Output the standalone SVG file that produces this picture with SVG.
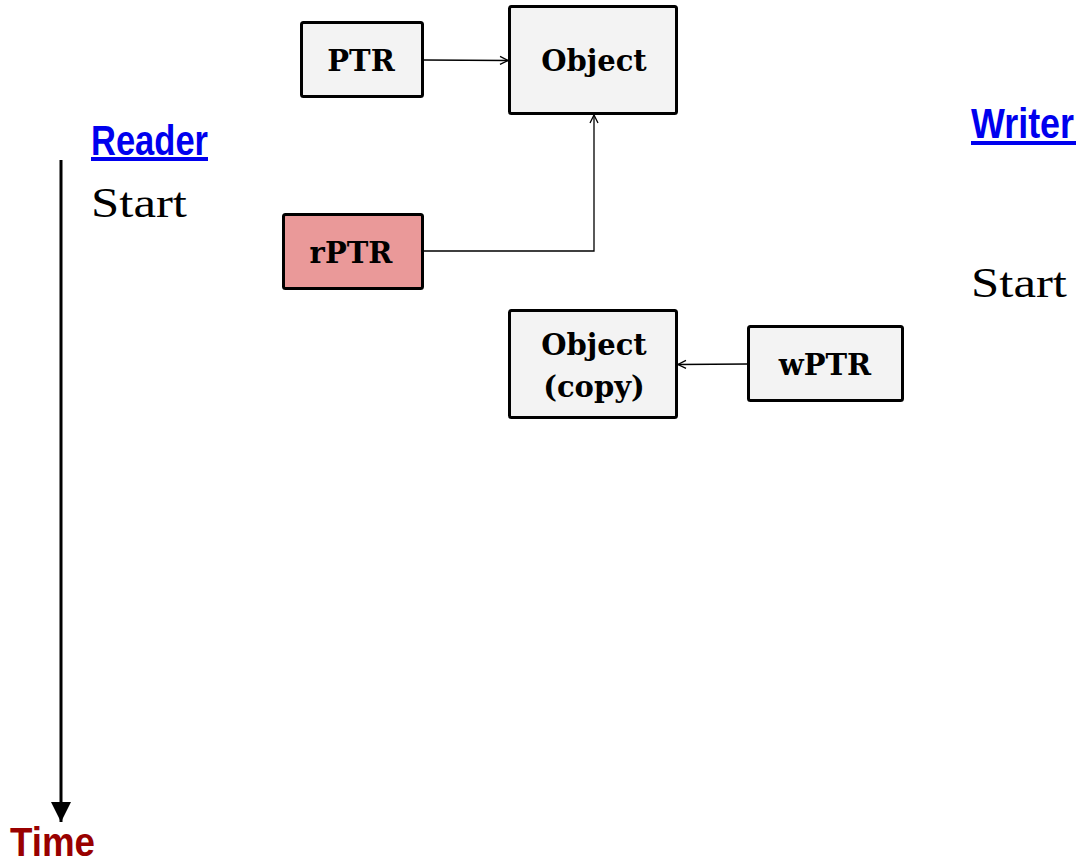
<svg xmlns="http://www.w3.org/2000/svg" width="1079" height="861" viewBox="0 0 1079 861">
<style>
.box{fill:#f3f3f3;stroke:#000;stroke-width:3}
.lbl{font-family:"DejaVu Serif","Liberation Serif",serif;font-weight:bold;font-size:29px;fill:#000;text-anchor:middle}
.head{font-family:"Liberation Sans","Noto Sans",sans-serif;font-weight:bold;font-size:42px;fill:#0000ee}
.start{font-family:"Liberation Serif",serif;font-size:42px;fill:#000}
.con{fill:none;stroke:#000;stroke-width:1.3}
</style>
<defs>
<marker id="open" viewBox="0 0 10 10" refX="9" refY="5" markerWidth="10" markerHeight="10" markerUnits="userSpaceOnUse" orient="auto">
<path d="M1,1 L9,5 L1,9" fill="none" stroke="#000" stroke-width="1.3"/>
</marker>
<marker id="fill" viewBox="0 0 10 10" refX="10" refY="5" markerWidth="20" markerHeight="24" markerUnits="userSpaceOnUse" orient="auto">
<path d="M0,0 L10,5 L0,10 Z" fill="#000"/>
</marker>
</defs>
<rect width="1079" height="861" fill="#fff"/>
<g id="connectors">
<path class="con" d="M423,60 L508,60.5" marker-end="url(#open)"/>
<path class="con" d="M423,251 L594,251 L594,115" marker-end="url(#open)"/>
<path class="con" d="M748,364 L678,364.5" marker-end="url(#open)"/>
<path d="M61,160 L61,822" stroke="#000" stroke-width="3" marker-end="url(#fill)"/>
</g>
<g id="ptr"><rect class="box" x="301.5" y="22.5" width="121" height="74" rx="2"/><text class="lbl" x="361" y="71">PTR</text></g>
<g id="object"><rect class="box" x="509.5" y="6.5" width="167" height="107" rx="2"/><text class="lbl" x="594" y="71">Object</text></g>
<g id="rptr"><rect class="box" x="283.5" y="214.5" width="139" height="74" rx="2" style="fill:#ea9999"/><text class="lbl" x="351" y="263">rPTR</text></g>
<g id="objcopy"><rect class="box" x="509.5" y="310.5" width="167" height="107" rx="2"/><text class="lbl" x="594" y="355">Object</text><text class="lbl" x="594" y="397">(copy)</text></g>
<g id="wptr"><rect class="box" x="748.5" y="326.5" width="154" height="74" rx="2"/><text class="lbl" x="825" y="375">wPTR</text></g>
<g id="labels">
<text class="head" x="91" y="155" textLength="117" lengthAdjust="spacingAndGlyphs">Reader</text>
<rect x="91" y="157" width="117" height="4" fill="#0000ee"/>
<text class="head" x="971" y="138" textLength="103" lengthAdjust="spacingAndGlyphs">Writer</text>
<rect x="971" y="141" width="105" height="4" fill="#0000ee"/>
<text class="start" x="91" y="217" textLength="96" lengthAdjust="spacingAndGlyphs">Start</text>
<text class="start" x="971" y="297" textLength="96" lengthAdjust="spacingAndGlyphs">Start</text>
<text x="10" y="856" textLength="85" lengthAdjust="spacingAndGlyphs" style="font-family:'Liberation Sans','Noto Sans',sans-serif;font-weight:bold;font-size:40px;fill:#990000">Time</text>
</g>
</svg>
